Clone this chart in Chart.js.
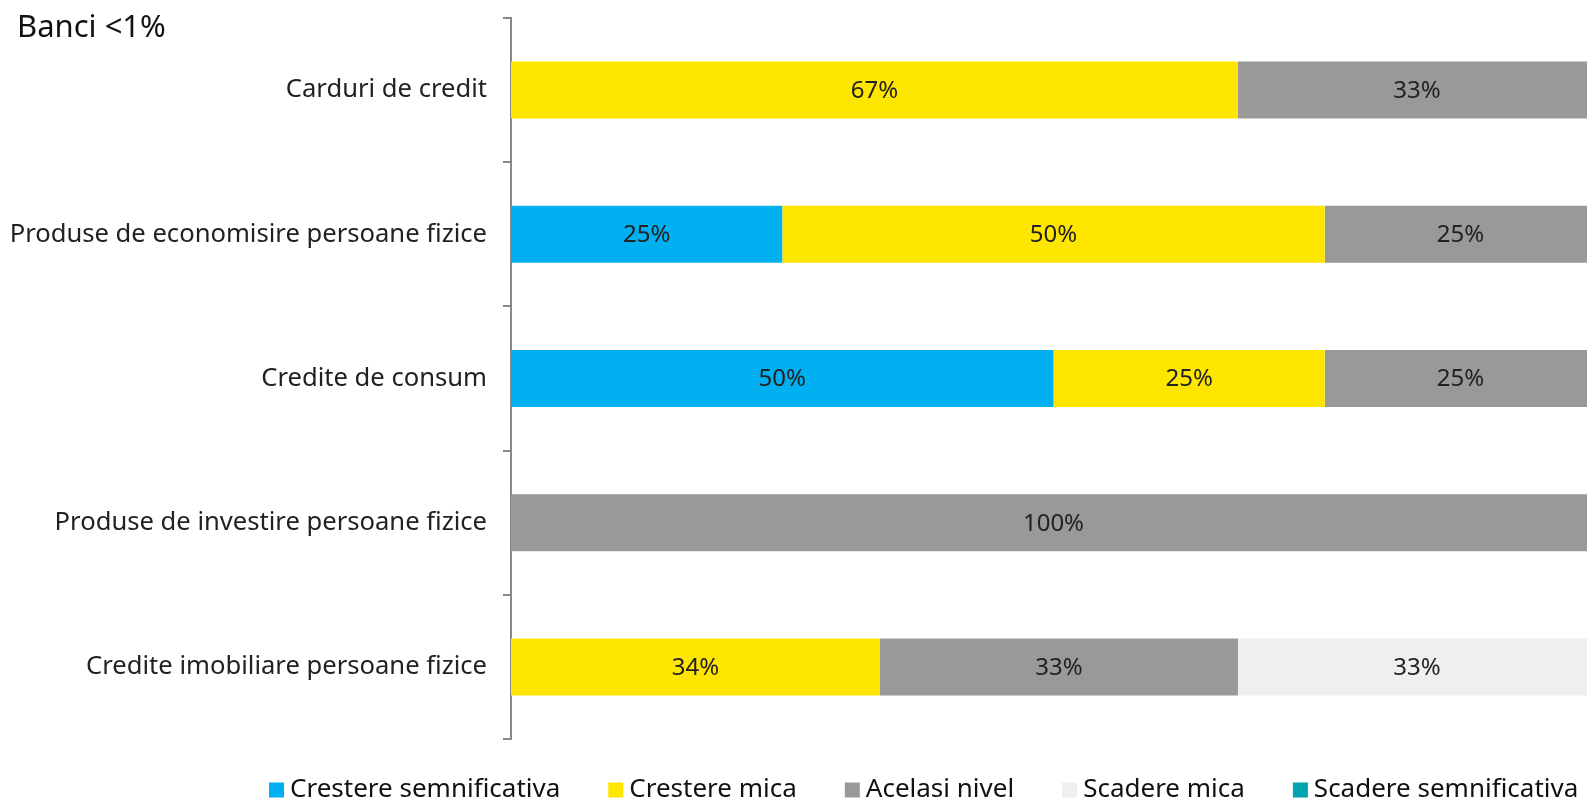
<!DOCTYPE html>
<html><head><meta charset="utf-8">
<script src="https://cdn.jsdelivr.net/npm/chart.js@4"></script>
<style>html,body{margin:0;padding:0;background:#fff;overflow:hidden}#wrap{width:1587px;height:804px;overflow:hidden}</style>
</head><body><div id="wrap"><canvas id="c" width="1596" height="804"></canvas></div>
<script>
const title = "Banci <1%";
const categories = ["Carduri de credit","Produse de economisire persoane fizice","Credite de consum","Produse de investire persoane fizice","Credite imobiliare persoane fizice"];
const seriesNames = ["Crestere semnificativa","Crestere mica","Acelasi nivel","Scadere mica","Scadere semnificativa"];
const cresterePuternica = [0,25,50,0,0];
const cresterMica = [67,50,25,0,34];
const acelasiNivel = [33,25,25,100,33];
const scadereMica = [0,0,0,0,33];
const scaderePuternica = [0,0,0,0,0];
const colors = ["#00B0F0","#FFE600","#999999","#EFEFEF","#00A3AE"];
const seriesValues = [cresterePuternica, cresterMica, acelasiNivel, scadereMica, scaderePuternica];

const labelPlugin = {
  id:'lbls',
  afterDatasetsDraw(chart){
    const ctx = chart.ctx;
    ctx.save();
    ctx.font = '24px "Noto Sans"';
    ctx.fillStyle = '#222';
    ctx.textAlign = 'center';
    ctx.textBaseline = 'middle';
    chart.data.datasets.forEach((ds,i)=>{
      const meta = chart.getDatasetMeta(i);
      meta.data.forEach((el,j)=>{
        const v = ds.data[j];
        if(!v) return;
        const x = (el.x + el.base)/2;
        ctx.fillText(v+'%', x, el.y+1);
      });
    });
    // title
    ctx.font = '31px "Noto Sans"';
    ctx.textAlign = 'left';
    ctx.fillStyle = '#111';
    ctx.fillText(title, 17, 28);
    // legend
    ctx.font = '26px "Noto Sans"';
    ctx.textBaseline = 'middle';
    let x = 269;
    const y = 790;
    const box = 15, gapBox = 6, gapItem = 48;
    seriesNames.forEach((n,i)=>{
      ctx.fillStyle = colors[i];
      ctx.fillRect(x, y - box/2, box, box);
      x += box + gapBox;
      ctx.fillStyle = '#111';
      ctx.fillText(n, x, y);
      x += ctx.measureText(n).width + gapItem;
    });
    ctx.restore();
  }
};

new Chart(document.getElementById('c'), {
  type:'bar',
  data:{
    labels: categories,
    datasets: seriesNames.map((n,i)=>({label:n, data:seriesValues[i], backgroundColor:colors[i], borderWidth:0}))
  },
  options:{
    indexAxis:'y',
    responsive:false,
    animation:false,
    categoryPercentage:0.395,
    barPercentage:1.0,
    layout:{padding:{top:18,right:0,left:0,bottom:65}},
    scales:{
      x:{stacked:true,min:0,max:100,display:false},
      y:{stacked:true,
         afterFit(s){s.width=511; s.paddingTop=0; s.paddingBottom=0;},
         border:{display:true,color:'#888',width:2},
         grid:{display:true,drawOnChartArea:false,offset:true,color:'#888',tickLength:8,lineWidth:2},
         ticks:{color:'#222',font:{family:'"Noto Sans"',size:25.6},padding:16}
      }
    },
    plugins:{
      legend:{display:false},
      tooltip:{enabled:false}
    }
  },
  plugins:[labelPlugin]
});
</script></body></html>
